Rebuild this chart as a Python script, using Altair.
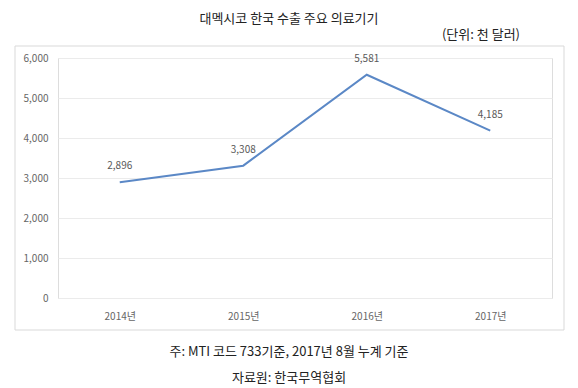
import altair as alt
import pandas as pd

years = ["2014년", "2015년", "2016년", "2017년"]
values = [2896, 3308, 5581, 4185]
y_ticks = [0, 1000, 2000, 3000, 4000, 5000, 6000]

title_text = "대멕시코 한국 수출 주요 의료기기"
unit_text = "(단위: 천 달러)"
note_text = "주: MTI 코드 733기준, 2017년 8월 누계 기준"
source_text = "자료원: 한국무역협회"

FONT = "Noto Sans CJK KR"

df = pd.DataFrame({"year": years, "value": values})

x_enc = alt.X("year:N", sort=years, title=None,
              scale=alt.Scale(paddingInner=0, paddingOuter=0),
              axis=alt.Axis(labelAngle=0, domain=False, ticks=False, grid=False,
                            labelPadding=13, labelFontSize=10, labelColor="#666666",
                            labelFont=FONT))
y_enc = alt.Y("value:Q", title=None,
              scale=alt.Scale(domain=[0, 6000], nice=False),
              axis=alt.Axis(values=y_ticks, format=",.0f", domain=False, ticks=False,
                            labelOverlap=False, labelPadding=10, labelFontSize=10,
                            labelColor="#666666", labelFont=FONT,
                            gridColor="#ebebeb", gridWidth=1))

frame = alt.Chart(pd.DataFrame({"k": [0]})).mark_rect(
    fill=None, stroke="#d9d9d9", strokeWidth=1
).encode(x=alt.value(-43), x2=alt.value(506), y=alt.value(-12), y2=alt.value(272))

base = alt.Chart(df).encode(x=x_enc, y=y_enc)

line = base.mark_line(color="#5b88c6", strokeWidth=2)

labels = base.mark_text(
    dy=-16, fontSize=10, color="#595959", font=FONT, baseline="middle"
).encode(text=alt.Text("value:Q", format=","))

def txt(s, x, y, align="center", size=13, color="#222222"):
    return alt.Chart(pd.DataFrame({"t": [s]})).mark_text(
        align=align, baseline="middle", fontSize=size, color=color, font=FONT
    ).encode(text="t:N", x=alt.value(x), y=alt.value(y))

chart = alt.layer(
    frame, line, labels,
    txt(title_text, 231, -39),
    txt(unit_text, 462, -23, align="right"),
    txt(note_text, 231, 294),
    txt(source_text, 231, 320),
).properties(
    width=494, height=240,
    autosize=alt.AutoSizeParams(type="none"),
    padding={"left": 50, "top": 50, "right": 18, "bottom": 100},
).configure_view(stroke=None).configure(background="white")

chart.save("out.html", embed_options={"renderer": "svg", "actions": False})
